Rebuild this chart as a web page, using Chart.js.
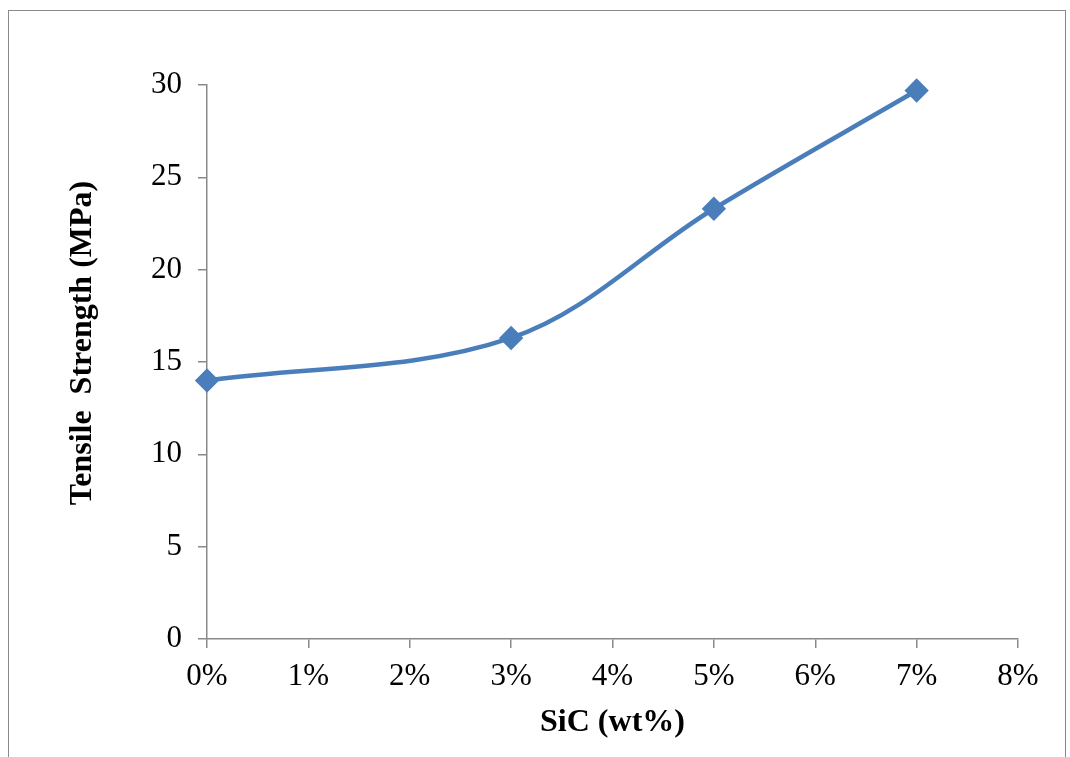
<!DOCTYPE html>
<html>
<head>
<meta charset="utf-8">
<script src="https://cdn.jsdelivr.net/npm/chart.js@4/dist/chart.umd.min.js"></script>
<style>
  html, body { margin: 0; padding: 0; background: #fff; }
  #wrap { position: relative; width: 1070px; height: 757px; overflow: hidden; }
  #frame { position: absolute; left: 8px; top: 10px; width: 1058px; height: 800px; border: 1.5px solid #898989; box-sizing: border-box; }
  canvas { position: absolute; left: 0; top: 0; }
</style>
</head>
<body>
<div id="wrap">
  <div id="frame"></div>
  <canvas id="chart" width="1070" height="757"></canvas>
</div>
<script>
// SiC content (wt%) and measured tensile strength
const sicContent = [0, 3, 5, 7];
const tensileStrength = [14.0, 16.3, 23.3, 29.7];
const xTicks = [0, 1, 2, 3, 4, 5, 6, 7, 8];
const yTicks = [0, 5, 10, 15, 20, 25, 30];
const yTitle = 'Tensile  Strength (MPa)';

const axisGray = '#898989';
const serif = "'Liberation Serif', 'Times New Roman', serif";

const points = sicContent.map((x, i) => ({ x: x, y: tensileStrength[i] }));

// y title sits a little above the plot centre, so draw it ourselves
const yTitlePlugin = {
    id: 'yTitle',
    afterDraw(chart) {
        const c = chart.ctx;
        const area = chart.chartArea;
        c.save();
        c.translate(83, (area.top + area.bottom) / 2 - 19);
        c.rotate(-Math.PI / 2);
        c.font = 'bold 32px ' + serif;
        c.fillStyle = '#000';
        c.textAlign = 'center';
        c.textBaseline = 'middle';
        c.fillText(yTitle, 0, 0);
        c.restore();
    }
};

new Chart(document.getElementById('chart').getContext('2d'), {
    type: 'line',
    data: {
        datasets: [{
            data: points,
            borderColor: '#4A7EBB',
            backgroundColor: '#4A7EBB',
            borderWidth: 4.5,
            tension: 0.35,
            pointStyle: 'rectRot',
            pointRadius: 9,
            pointHoverRadius: 9,
            fill: false,
            clip: false
        }]
    },
    options: {
        responsive: false,
        animation: false,
        layout: { padding: { left: 0, top: 85, right: 52, bottom: 0 } },
        plugins: { legend: { display: false }, tooltip: { enabled: false } },
        scales: {
            x: {
                type: 'linear',
                min: 0,
                max: 8,
                afterBuildTicks: scale => { scale.ticks = xTicks.map(v => ({ value: v })); },
                afterFit: scale => { scale.height = 118; },
                ticks: {
                    callback: v => v + '%',
                    color: '#000',
                    padding: 10,
                    font: { family: serif, size: 31 }
                },
                grid: { drawOnChartArea: false, drawTicks: true, tickLength: 9, color: axisGray, lineWidth: 1.5 },
                border: { color: axisGray, width: 1.5 },
                title: {
                    display: true,
                    text: 'SiC (wt%)',
                    color: '#000',
                    padding: { top: 4, bottom: 15 },
                    font: { family: serif, size: 32, weight: 'bold' }
                }
            },
            y: {
                min: 0,
                max: 30,
                afterBuildTicks: scale => { scale.ticks = yTicks.map(v => ({ value: v })); },
                afterFit: scale => { scale.width = 207; },
                ticks: {
                    color: '#000',
                    padding: 16,
                    font: { family: serif, size: 31 }
                },
                grid: { drawOnChartArea: false, drawTicks: true, tickLength: 9, color: axisGray, lineWidth: 1.5 },
                border: { color: axisGray, width: 1.5 }
            }
        }
    },
    plugins: [yTitlePlugin]
});
</script>
</body>
</html>
